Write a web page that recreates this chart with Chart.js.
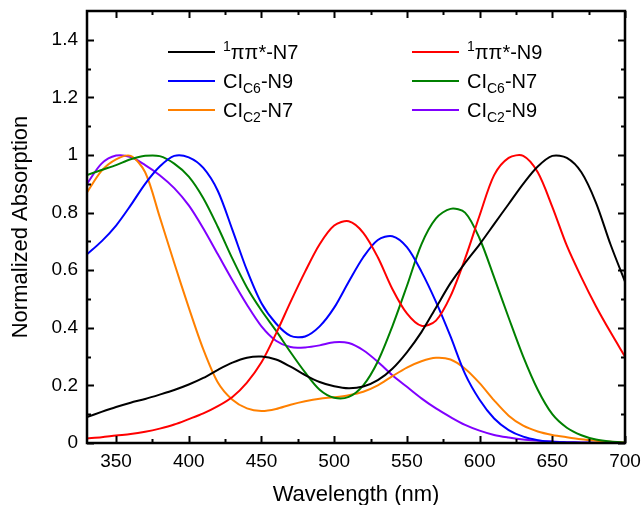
<!DOCTYPE html>
<html>
<head>
<meta charset="utf-8">
<title>Normalized Absorption</title>
<script src="https://cdn.jsdelivr.net/npm/chart.js@4.4.1/dist/chart.umd.min.js"></script>
<style>
    body { margin: 0; background: #fff; }
    canvas { display: block; }
</style>
</head>
<body>
<canvas id="absChart" width="641" height="505"></canvas>
<script>
// wavelength grid (nm)
const wavelengths = [330, 340, 350, 360, 370, 380, 390, 400, 410, 420, 430, 440, 450, 460, 470, 480, 490, 500, 510,
    520, 530, 540, 550, 560, 570, 580, 590, 600, 610, 620, 630, 640, 650, 660, 670, 680, 690, 700];

// normalized absorption
const ppN7 = [0.09, 0.108, 0.125, 0.14, 0.153, 0.168, 0.184, 0.203, 0.226, 0.254, 0.279, 0.296, 0.30, 0.29, 0.265, 0.236, 0.212, 0.197, 0.19,
    0.196, 0.218, 0.258, 0.315, 0.385, 0.47, 0.555, 0.625, 0.69, 0.76, 0.83, 0.90, 0.96, 0.997, 0.99, 0.94, 0.835, 0.69, 0.56];
const ppN9 = [0.016, 0.02, 0.026, 0.031, 0.039, 0.05, 0.064, 0.083, 0.103, 0.128, 0.16, 0.21, 0.28, 0.38, 0.49, 0.595, 0.69, 0.755, 0.77,
    0.73, 0.645, 0.535, 0.45, 0.407, 0.425, 0.51, 0.64, 0.79, 0.93, 0.99, 0.997, 0.94, 0.82, 0.685, 0.575, 0.475, 0.385, 0.30];
const ciC6N9 = [0.655, 0.70, 0.755, 0.825, 0.90, 0.96, 0.997, 0.992, 0.955, 0.875, 0.74, 0.60, 0.485, 0.415, 0.372, 0.37, 0.405, 0.47, 0.56,
    0.645, 0.705, 0.718, 0.68, 0.595, 0.49, 0.37, 0.24, 0.15, 0.085, 0.045, 0.022, 0.01, 0.004, 0.002, 0.001, 0, 0, 0];
const ciC6N7 = [0.93, 0.948, 0.965, 0.985, 0.997, 0.996, 0.97, 0.925, 0.85, 0.75, 0.64, 0.54, 0.46, 0.39, 0.315, 0.245, 0.185, 0.157, 0.16,
    0.2, 0.283, 0.405, 0.545, 0.69, 0.78, 0.813, 0.8, 0.71, 0.575, 0.435, 0.3, 0.185, 0.1, 0.053, 0.027, 0.012, 0.005, 0.002];
const ciC2N7 = [0.87, 0.945, 0.985, 0.997, 0.94, 0.785, 0.625, 0.47, 0.325, 0.21, 0.15, 0.12, 0.111, 0.118, 0.133, 0.145, 0.154, 0.159, 0.166,
    0.178, 0.2, 0.232, 0.262, 0.284, 0.296, 0.29, 0.258, 0.208, 0.148, 0.095, 0.06, 0.04, 0.028, 0.02, 0.013, 0.008, 0.004, 0.002];
const ciC2N9 = [0.90, 0.97, 0.998, 0.993, 0.965, 0.93, 0.885, 0.825, 0.745, 0.655, 0.565, 0.48, 0.405, 0.355, 0.333, 0.332, 0.339, 0.35, 0.347,
    0.322, 0.282, 0.235, 0.195, 0.155, 0.12, 0.09, 0.063, 0.043, 0.028, 0.019, 0.012, 0.008, 0.005, 0.003, 0.002, 0.001, 0, 0];

// legend text: ^{..} superscript, _{..} subscript
const seriesLabels = ['^{1}ππ*-N7', '^{1}ππ*-N9', 'CI_{C6}-N9', 'CI_{C6}-N7', 'CI_{C2}-N7', 'CI_{C2}-N9'];
const seriesColors = ['#000000', '#ff0000', '#0000ff', '#008000', '#ff8000', '#8000ff'];
const seriesValues = [ppN7, ppN9, ciC6N9, ciC6N7, ciC2N7, ciC2N9];

// axis ticks
const xTicks = [350, 400, 450, 500, 550, 600, 650, 700];
const xMinor = [375, 425, 475, 525, 575, 625, 675];
const yTicks = [0, 0.2, 0.4, 0.6, 0.8, 1, 1.2, 1.4];
const yMinor = [0.1, 0.3, 0.5, 0.7, 0.9, 1.1, 1.3];

const FONT = '"Liberation Sans", Arial, sans-serif';
Chart.defaults.font.family = FONT;
Chart.defaults.color = '#000';

// frame + inward ticks on all four sides
const frameTicks = {
    id: 'frameTicks',
    afterDraw(chart) {
        const { ctx, chartArea: a, scales: { x, y } } = chart;
        ctx.save();
        ctx.strokeStyle = '#000';
        ctx.lineWidth = 2;
        ctx.beginPath();
        const xt = (list, len) => list.forEach(v => {
            const px = Math.round(x.getPixelForValue(v)) + 0.5;
            ctx.moveTo(px, a.bottom); ctx.lineTo(px, a.bottom - len);
            ctx.moveTo(px, a.top); ctx.lineTo(px, a.top + len);
        });
        const yt = (list, len) => list.forEach(v => {
            const py = Math.round(y.getPixelForValue(v)) + 0.5;
            ctx.moveTo(a.left, py); ctx.lineTo(a.left + len, py);
            ctx.moveTo(a.right, py); ctx.lineTo(a.right - len, py);
        });
        xt(xTicks, 7); xt(xMinor, 4);
        yt(yTicks, 7); yt(yMinor, 4);
        ctx.stroke();
        ctx.lineWidth = 2.5;
        ctx.strokeRect(a.left, a.top, a.right - a.left, a.bottom - a.top);
        ctx.restore();
    }
};

function drawRichText(ctx, text, x, baseY) {
    const parts = text.split(/(\^\{[^}]*\}|_\{[^}]*\})/).filter(p => p);
    parts.forEach(p => {
        let dy = 0, size = 20, str = p;
        if (p.startsWith('^{')) { str = p.slice(2, -1); size = 14; dy = -8; }
        else if (p.startsWith('_{')) { str = p.slice(2, -1); size = 14; dy = 5; }
        ctx.font = `${size}px ${FONT}`;
        ctx.fillText(str, x, baseY + dy);
        x += ctx.measureText(str).width;
    });
}

const customLegend = {
    id: 'customLegend',
    afterDraw(chart) {
        const { ctx } = chart;
        const colX = [168, 412];
        const rowY = [52, 81, 110];
        ctx.save();
        ctx.textBaseline = 'alphabetic';
        ctx.fillStyle = '#000';
        chart.data.datasets.forEach((ds, i) => {
            const lx = colX[i % 2];
            const ly = rowY[Math.floor(i / 2)];
            ctx.strokeStyle = ds.borderColor;
            ctx.lineWidth = 2;
            ctx.beginPath();
            ctx.moveTo(lx, ly);
            ctx.lineTo(lx + 47, ly);
            ctx.stroke();
            drawRichText(ctx, seriesLabels[i], lx + 55, ly + 7);
        });
        ctx.restore();
    }
};

const ctx = document.getElementById('absChart').getContext('2d');
const absChart = new Chart(ctx, {
    type: 'line',
    data: {
        datasets: seriesValues.map((vals, i) => ({
            label: seriesLabels[i],
            data: wavelengths.map((w, k) => ({ x: w, y: vals[k] })),
            borderColor: seriesColors[i],
            borderWidth: 2,
            pointRadius: 0,
            fill: false,
            tension: 0.3
        }))
    },
    options: {
        responsive: false,
        animation: false,
        layout: { padding: { left: 0, right: 16, top: 11, bottom: 0 } },
        plugins: {
            legend: { display: false },
            tooltip: { enabled: false }
        },
        scales: {
            x: {
                type: 'linear',
                min: 330,
                max: 700,
                grid: { display: false, drawTicks: false },
                border: { display: false },
                afterBuildTicks: s => { s.ticks = xTicks.map(v => ({ value: v })); },
                afterFit: s => { s.height = 62; s.paddingLeft = 0; s.paddingRight = 0; },
                ticks: { font: { size: 19 }, padding: 7, maxRotation: 0, callback: v => String(v) },
                title: { display: true, text: 'Wavelength (nm)', font: { size: 22 }, padding: { top: 0, bottom: -3 } }
            },
            y: {
                min: 0,
                max: 1.5,
                grid: { display: false, drawTicks: false },
                border: { display: false },
                afterBuildTicks: s => { s.ticks = yTicks.map(v => ({ value: v })); },
                afterFit: s => { s.width = 87; s.paddingTop = 0; s.paddingBottom = 0; },
                ticks: { font: { size: 19 }, padding: 9, callback: v => String(v) },
                title: { display: true, text: 'Normalized Absorption', font: { size: 22 }, padding: { top: 8, bottom: 0 } }
            }
        }
    },
    plugins: [frameTicks, customLegend]
});
</script>
</body>
</html>
